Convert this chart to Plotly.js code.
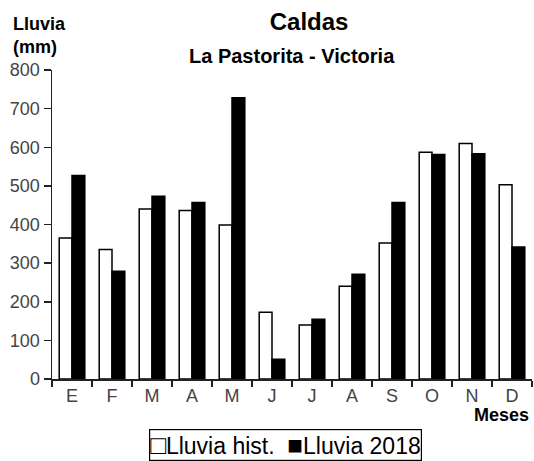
<!DOCTYPE html>
<html>
<head>
<meta charset="utf-8">
<script src="https://cdn.plot.ly/plotly-3.0.1.min.js"></script>
<style>html,body{margin:0;padding:0;background:#fff;}#chart{width:534px;height:461px;}</style>
</head>
<body>
<div id="chart"></div>
<script>
var months = ["E","F","M","A","M ","J","J ","A ","S","O","N","D"];
var monthLabels = ["E","F","M","A","M","J","J","A","S","O","N","D"];
var seriesNames = ["Lluvia hist.", "Lluvia 2018"];
var lluviaHist = [365, 335, 440, 436, 399, 173, 140, 240, 352, 587, 610, 503];
var lluvia2018 = [527, 279, 473, 457, 728, 51, 155, 271, 457, 581, 583, 342];
var yTicks = [0,100,200,300,400,500,600,700,800];

var F = "Liberation Sans, Arial, sans-serif";
var L = 52, T = 70, W = 480, H = 309.5;
function px(x){ return (x - L) / W; }
function py(y){ return (T + H - y) / H; }

var traces = [
  {type:"bar", name:seriesNames[0], x:months, y:lluviaHist,
   marker:{color:"#ffffff", line:{color:"#000000", width:1.5}}},
  {type:"bar", name:seriesNames[1], x:months, y:lluvia2018,
   marker:{color:"#000000", line:{color:"#000000", width:1.5}}}
];

var sym = '<span style="font-size:26px">';
var layout = {
  width:534, height:461,
  margin:{l:L, r:534-L-W, t:T, b:461-T-H, pad:0},
  paper_bgcolor:"#fff", plot_bgcolor:"#fff",
  showlegend:false,
  barmode:"group", bargap:0.36, bargroupgap:0,
  font:{family:F, size:18, color:"#333"},
  title:{text:"Caldas", x:286/534, xref:"paper", xanchor:"center", y:1-22/461, yanchor:"middle",
         font:{family:F, size:24, color:"#000", weight:"bold"}},
  xaxis:{type:"category", range:[-0.5,11.5], tickson:"boundaries", ticks:"outside", ticklen:6,
         tickwidth:1.5, tickcolor:"#222", showline:true, linecolor:"#222", linewidth:1.5,
         showgrid:false, zeroline:false, tickvals:months, ticktext:monthLabels,
         tickfont:{family:F, size:18, color:"#444"}, fixedrange:true},
  yaxis:{range:[0,800], tickvals:yTicks, ticks:"outside", ticklen:7, tickwidth:1.5, tickcolor:"#222",
         showline:true, linecolor:"#222", linewidth:1.5, showgrid:false, zeroline:false,
         tickfont:{family:F, size:18, color:"#444"}, ticklabelstandoff:0, fixedrange:true},
  annotations:[
    {text:"Lluvia<br>(mm)", xref:"paper", yref:"paper", x:px(11), y:py(12), xanchor:"left", yanchor:"top",
     align:"left", showarrow:false, font:{family:F, size:18, color:"#000", weight:"bold"}},
    {text:"La Pastorita - Victoria", xref:"paper", yref:"paper", x:px(291.5), y:py(56), xanchor:"center", yanchor:"middle",
     showarrow:false, font:{family:F, size:20, color:"#000", weight:"bold"}},
    {text:"Meses", xref:"paper", yref:"paper", x:px(531), y:py(416), xanchor:"right", yanchor:"middle",
     showarrow:false, font:{family:F, size:18, color:"#000", weight:"bold"}},
    {text:sym + "\u25A1</span>" + seriesNames[0] + "  " + sym + "\u25A0</span>" + seriesNames[1],
     xref:"paper", yref:"paper", x:px(285), y:py(446),
     xanchor:"center", yanchor:"middle", showarrow:false, bordercolor:"#000", borderwidth:1.2, borderpad:0,
     font:{family:F, size:23, color:"#000"}}
  ]
};
Plotly.newPlot("chart", traces, layout, {staticPlot:true, displayModeBar:false});
</script>
</body>
</html>
